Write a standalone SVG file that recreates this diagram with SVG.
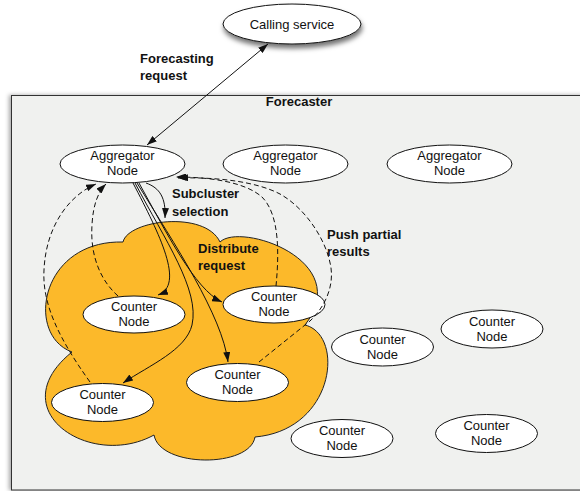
<svg xmlns="http://www.w3.org/2000/svg" width="580" height="491" viewBox="0 0 580 491">
  <defs>
    <style>
      text { font-family: "Liberation Sans", Arial, Helvetica, sans-serif; font-size: 13px; fill: #111; }
      .ctr { text-anchor: middle; }
      .lbl { font-weight: bold; }
      .node { fill: #ffffff; stroke: #111; stroke-width: 1; }
      .edge { fill: none; stroke: #111; stroke-width: 1; }
      .dash { fill: none; stroke: #111; stroke-width: 1; stroke-dasharray: 5,3; }
    </style>
    <marker id="arrow" markerUnits="userSpaceOnUse" markerWidth="10" markerHeight="7" refX="10" refY="3.5" orient="auto-start-reverse">
      <path d="M0,0 L10,3.5 L0,7 Z" fill="#111"/>
    </marker>
    <filter id="shadow" x="-20%" y="-30%" width="140%" height="180%">
      <feDropShadow dx="1" dy="4" stdDeviation="2.5" flood-color="#000" flood-opacity="0.55"/>
    </filter>
    <filter id="boxshadow" x="-5%" y="-5%" width="110%" height="110%">
      <feDropShadow dx="-2" dy="0" stdDeviation="2" flood-color="#000" flood-opacity="0.35"/>
    </filter>
  </defs>

  <g id="forecaster">
    <rect x="11.5" y="95.5" width="600" height="394.5" fill="#f0f1ef" stroke="#333" stroke-width="1" filter="url(#boxshadow)"/>
    <text class="ctr lbl" x="299" y="106">Forecaster</text>
  </g>

  <g id="subcluster">
    <path d="M 123 242 C 128 220, 205 210, 220 242 C 240 222, 355 260, 305 325 C 345 335, 335 430, 255 437 C 250 468, 160 468, 154 435 C 90 470, 0 410, 72 352 C 25 335, 40 240, 123 242 Z" fill="#fcb92a" stroke="#222" stroke-width="1"/>
  </g>

  <g id="calling-service">
    <ellipse class="node" cx="292" cy="24" rx="69" ry="20" filter="url(#shadow)"/>
    <text class="ctr" x="292" y="29">Calling service</text>
  </g>

  <g id="aggregator-1">
    <ellipse class="node" cx="122.5" cy="164" rx="62.5" ry="19"/>
    <text class="ctr" x="122.5" y="160">Aggregator</text>
    <text class="ctr" x="122.5" y="175">Node</text>
  </g>
  <g id="aggregator-2">
    <ellipse class="node" cx="285.5" cy="164" rx="62.5" ry="19"/>
    <text class="ctr" x="285.5" y="160">Aggregator</text>
    <text class="ctr" x="285.5" y="175">Node</text>
  </g>
  <g id="aggregator-3">
    <ellipse class="node" cx="449.5" cy="164" rx="62.5" ry="19"/>
    <text class="ctr" x="449.5" y="160">Aggregator</text>
    <text class="ctr" x="449.5" y="175">Node</text>
  </g>

  <g id="counter-1">
    <ellipse class="node" cx="134" cy="314.5" rx="51" ry="18.5"/>
    <text class="ctr" x="134" y="311">Counter</text>
    <text class="ctr" x="134" y="326">Node</text>
  </g>
  <g id="counter-2">
    <ellipse class="node" cx="274" cy="304.5" rx="51" ry="18.5"/>
    <text class="ctr" x="274" y="301">Counter</text>
    <text class="ctr" x="274" y="316">Node</text>
  </g>
  <g id="counter-3">
    <ellipse class="node" cx="102.5" cy="402.5" rx="51" ry="19"/>
    <text class="ctr" x="102.5" y="399">Counter</text>
    <text class="ctr" x="102.5" y="414">Node</text>
  </g>
  <g id="counter-4">
    <ellipse class="node" cx="237.5" cy="382.5" rx="51" ry="19"/>
    <text class="ctr" x="237.5" y="379">Counter</text>
    <text class="ctr" x="237.5" y="394">Node</text>
  </g>
  <g id="counter-5">
    <ellipse class="node" cx="382.5" cy="347" rx="51" ry="19"/>
    <text class="ctr" x="382.5" y="343.5">Counter</text>
    <text class="ctr" x="382.5" y="358.5">Node</text>
  </g>
  <g id="counter-6">
    <ellipse class="node" cx="492" cy="329" rx="51" ry="19"/>
    <text class="ctr" x="492" y="325.5">Counter</text>
    <text class="ctr" x="492" y="340.5">Node</text>
  </g>
  <g id="counter-7">
    <ellipse class="node" cx="342" cy="438.5" rx="51" ry="19"/>
    <text class="ctr" x="342" y="435">Counter</text>
    <text class="ctr" x="342" y="450">Node</text>
  </g>
  <g id="counter-8">
    <ellipse class="node" cx="486.5" cy="433.5" rx="51" ry="19"/>
    <text class="ctr" x="486.5" y="430">Counter</text>
    <text class="ctr" x="486.5" y="445">Node</text>
  </g>

  <g id="connectors">
    <path class="edge" d="M 268 44 L 147 145" marker-start="url(#arrow)" marker-end="url(#arrow)"/>
    <path class="edge" d="M 146 183 C 160 188, 166 198, 165 218" marker-end="url(#arrow)"/>
    <path class="edge" d="M 133 183 C 160 235, 185 285, 158 295" marker-end="url(#arrow)"/>
    <path class="edge" d="M 135 183 C 165 240, 200 290, 192 325 C 186 350, 150 365, 123 383" marker-end="url(#arrow)"/>
    <path class="edge" d="M 137 183 C 175 245, 222 315, 228 362" marker-end="url(#arrow)"/>
    <path class="edge" d="M 139 183 C 165 230, 195 290, 222 302" marker-end="url(#arrow)"/>
    <path class="dash" d="M 118 296 C 100 280, 90 255, 92 225 C 93 205, 98 192, 106 184" marker-end="url(#arrow)"/>
    <path class="dash" d="M 90 382 C 60 340, 42 305, 44 270 C 46 225, 70 195, 96 184" marker-end="url(#arrow)"/>
    <path class="dash" d="M 276 286 C 279 255, 280 215, 262 197 C 245 182, 210 177, 176 177" marker-end="url(#arrow)"/>
    <path class="dash" d="M 259 362 L 310 321 C 322 310, 334 290, 331 268 C 327 240, 305 208, 280 194 C 255 181, 215 177, 178 178" marker-end="url(#arrow)"/>
  </g>

  <g id="labels">
    <text class="lbl" x="140" y="63">Forecasting</text>
    <text class="lbl" x="140" y="80">request</text>
    <text class="lbl" x="172" y="198">Subcluster</text>
    <text class="lbl" x="172" y="216">selection</text>
    <text class="lbl" x="198" y="253">Distribute</text>
    <text class="lbl" x="198" y="270">request</text>
    <text class="lbl" x="327" y="239">Push partial</text>
    <text class="lbl" x="327" y="256">results</text>
  </g>
</svg>
